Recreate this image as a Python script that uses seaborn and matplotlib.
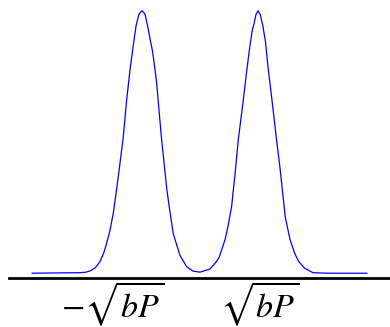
import matplotlib
matplotlib.use("Agg")
import matplotlib.pyplot as plt
from matplotlib.transforms import ScaledTranslation
import seaborn as sns

# Bimodal density: position (in units of sqrt(bP)) and relative height
xs = [-2.897, -2.069, -1.966, -1.880, -1.800, -1.724, -1.655, -1.609,
      -1.550, -1.495, -1.437, -1.379, -1.322, -1.264, -1.207, -1.155,
      -1.100, -1.050, -1.000, -0.950, -0.900, -0.850, -0.817, -0.752,
      -0.666, -0.610, -0.570, -0.523, -0.460, -0.345, -0.230, -0.120,
      0.000, 0.172, 0.287, 0.333, 0.431, 0.480, 0.546, 0.603, 0.660,
      0.747, 0.800, 0.851, 0.900, 0.931, 0.965, 1.000, 1.040, 1.086,
      1.130, 1.172, 1.241, 1.315, 1.380, 1.470, 1.550, 1.632, 1.700,
      1.805, 1.948, 2.207, 2.879]
ys = [0.000, 0.002, 0.004, 0.010, 0.022, 0.044, 0.080, 0.114,
      0.165, 0.228, 0.320, 0.419, 0.520, 0.660, 0.774, 0.860,
      0.945, 0.988, 1.000, 0.988, 0.940, 0.880, 0.845, 0.736,
      0.520, 0.400, 0.317, 0.242, 0.150, 0.068, 0.025, 0.008,
      0.004, 0.016, 0.045, 0.062, 0.127, 0.175, 0.255, 0.375, 0.508,
      0.660, 0.760, 0.850, 0.925, 0.950, 0.985, 1.000, 0.985, 0.940,
      0.880, 0.787, 0.660, 0.518, 0.400, 0.215, 0.130, 0.076, 0.045,
      0.019, 0.002, 0.000, 0.000]
tick_values = [-1, 1]
tick_labels = [r"$-\sqrt{bP}$", r"$\sqrt{bP}$"]

sns.set_theme(style="white")
plt.rcParams["mathtext.fontset"] = "stix"
plt.rcParams["font.family"] = ["STIXGeneral", "DejaVu Serif"]

fig = plt.figure(figsize=(3.90, 3.27), dpi=100)
ax = fig.add_axes([0.023, 0.151, 0.977, 0.849])

sns.lineplot(x=xs, y=ys, ax=ax, color="#0000ff", linewidth=0.9, sort=False)

ax.set_xlim(-3.293, 3.276)
ax.set_ylim(-0.0168, 1.0408)

for side in ("left", "right", "top"):
    ax.spines[side].set_visible(False)
ax.spines["bottom"].set_color("black")
ax.spines["bottom"].set_linewidth(2.0)

ax.set_yticks([])
ax.set_xticks(tick_values)
ax.set_xticklabels(tick_labels, fontsize=24.5)
ax.tick_params(axis="x", length=0, pad=1, colors="black")

# nudge the labels sideways
shifts = [-0.29, 0.02]
for lab, dx in zip(ax.get_xticklabels(), shifts):
    lab.set_transform(lab.get_transform() + ScaledTranslation(dx, 0, fig.dpi_scale_trans))

ax.set_xlabel("")
ax.set_ylabel("")
ax.grid(False)

fig.savefig("out.png", dpi=100, facecolor="white")
